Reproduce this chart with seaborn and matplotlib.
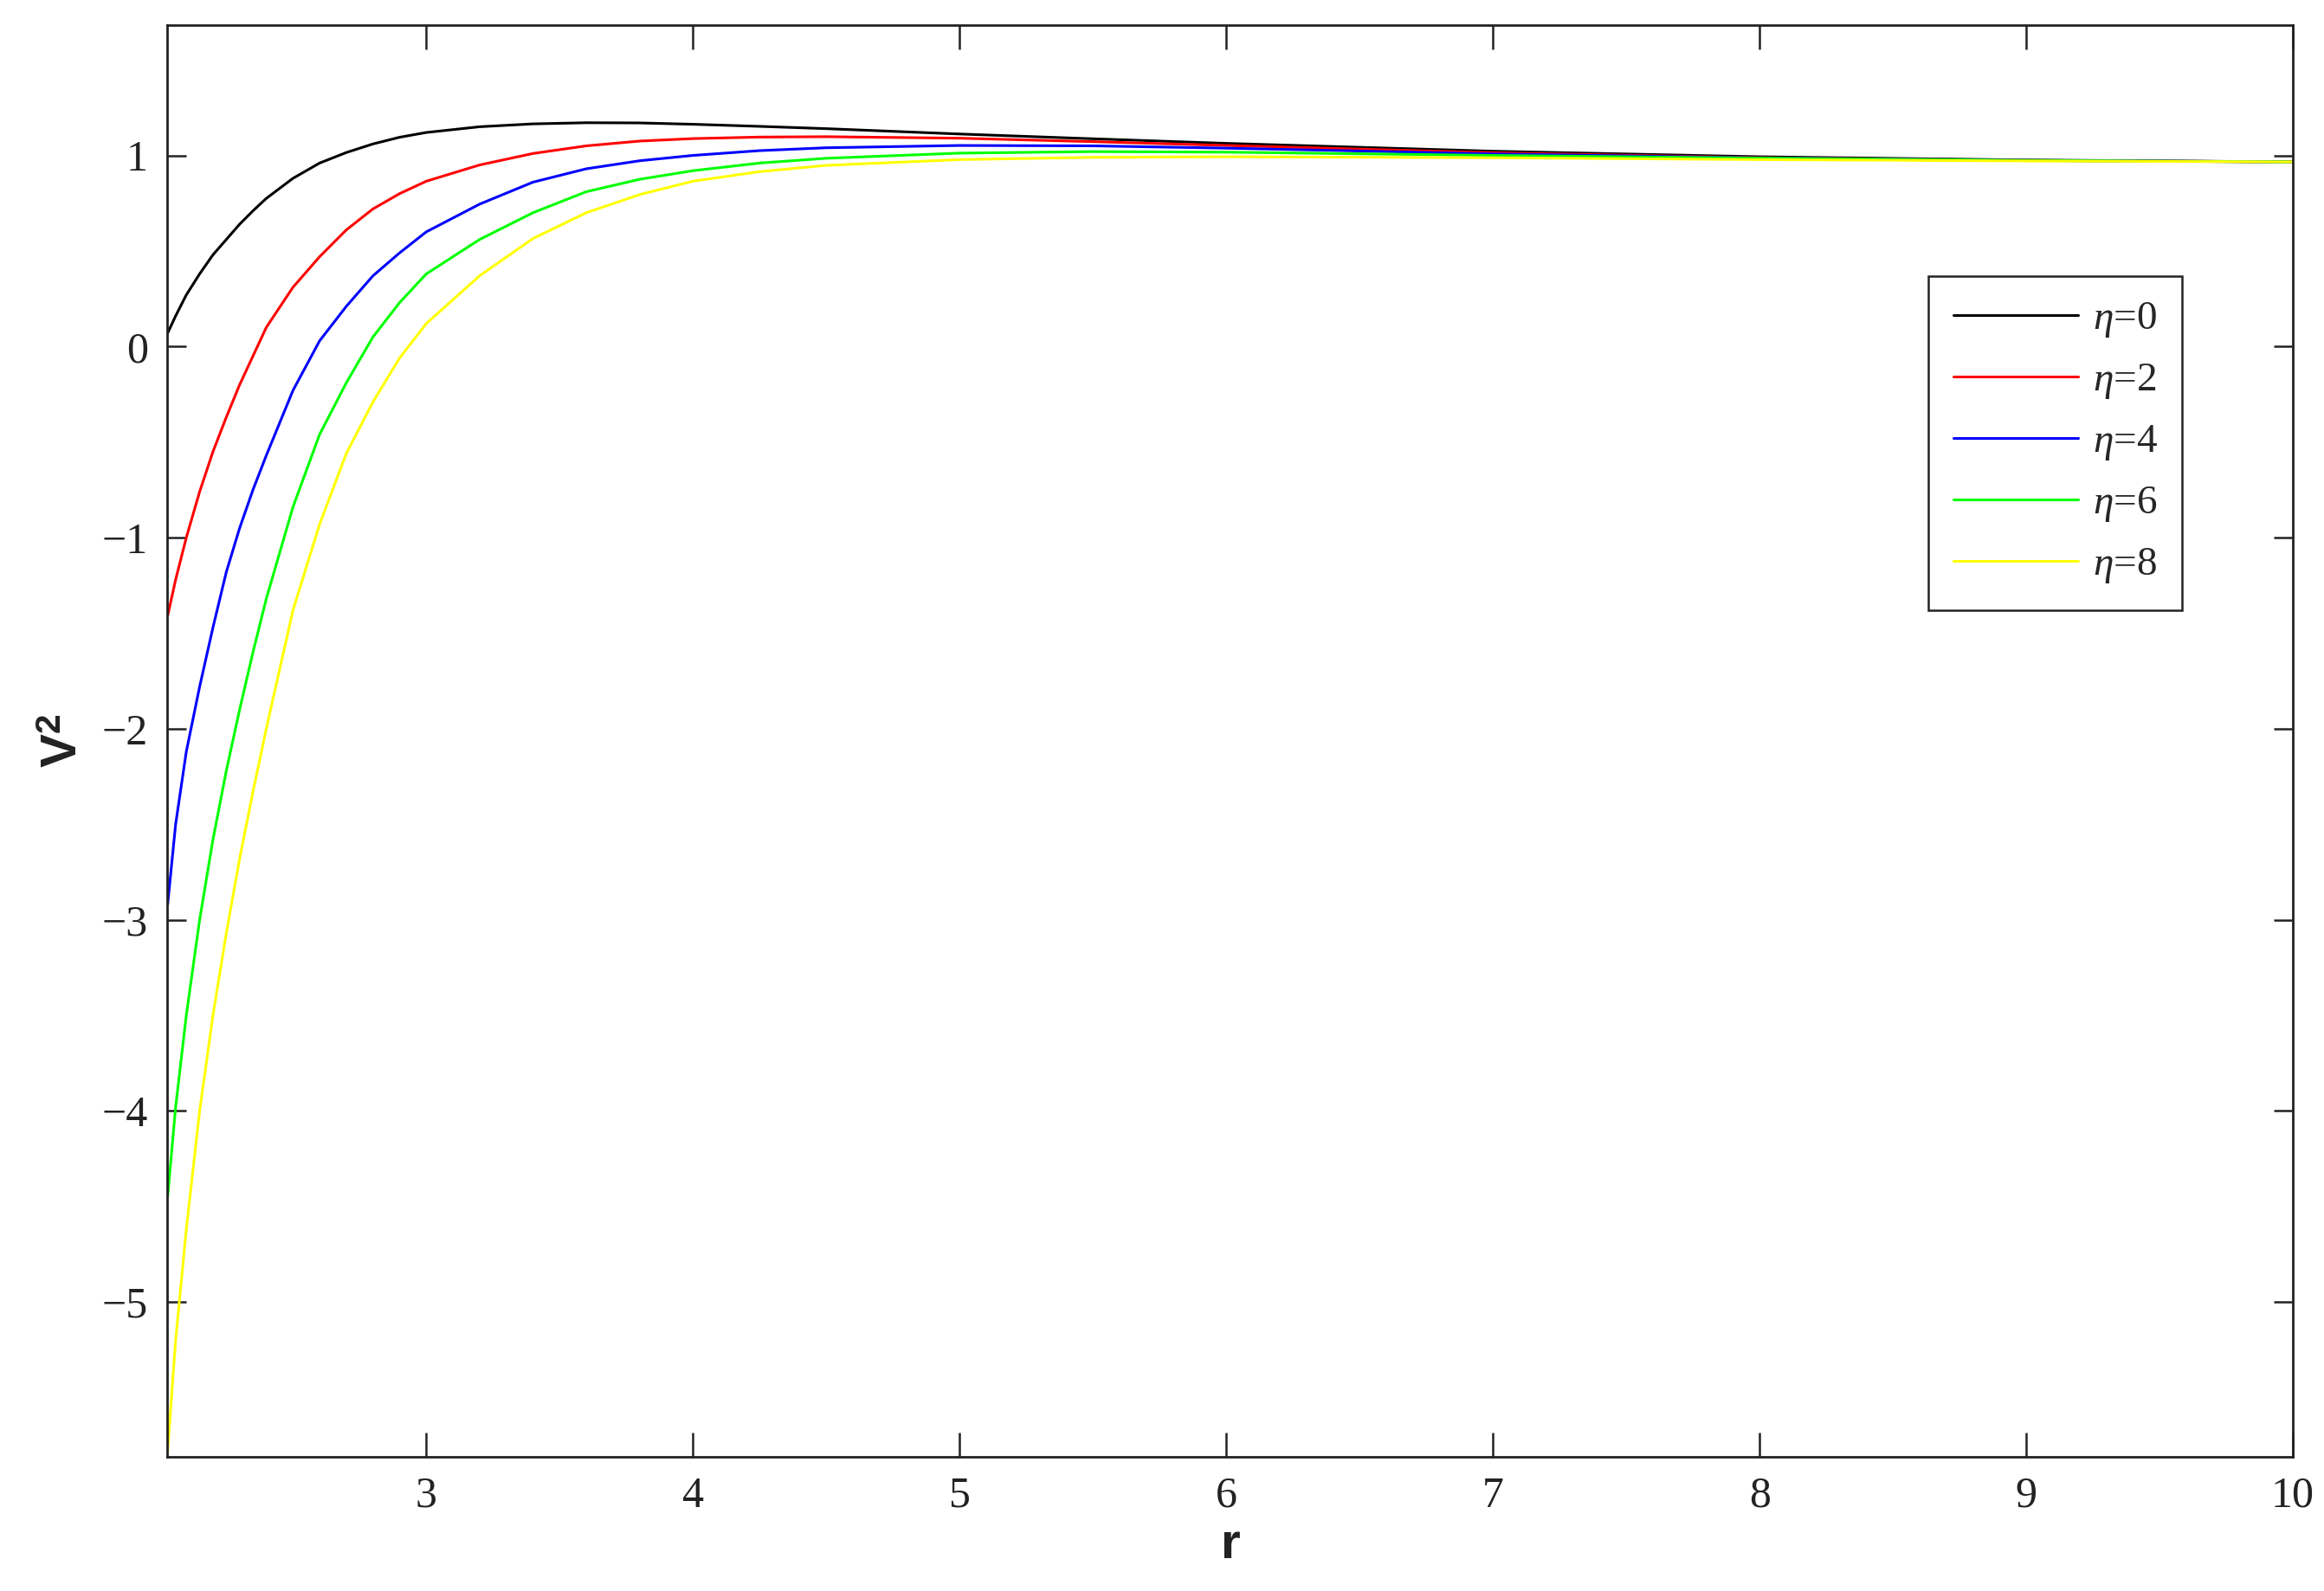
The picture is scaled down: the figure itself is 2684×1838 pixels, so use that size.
import numpy as np
import pandas as pd
import matplotlib
matplotlib.use("Agg")
import matplotlib.pyplot as plt
import seaborn as sns

# ---- data ----
r_vals = [2.03, 2.06, 2.1, 2.15, 2.2, 2.25, 2.3, 2.35, 2.4, 2.5, 2.6, 2.7, 2.8, 2.9,
          3.0, 3.2, 3.4, 3.6, 3.8, 4.0, 4.25, 4.5, 5.0, 5.5, 6.0, 7.0, 8.0, 9.0, 10.0]

v_eta0 = [0.07, 0.16, 0.27, 0.38, 0.48, 0.56, 0.64, 0.71, 0.775, 0.88, 0.96, 1.015, 1.06, 1.095,
          1.12, 1.15, 1.165, 1.171, 1.17, 1.163, 1.152, 1.14, 1.112, 1.087, 1.063, 1.022, 0.993, 0.976, 0.966]
v_eta2 = [-1.41, -1.22, -1.0, -0.76, -0.55, -0.37, -0.20, -0.05, 0.10, 0.31, 0.47, 0.61, 0.72, 0.80,
          0.865, 0.95, 1.01, 1.05, 1.075, 1.088, 1.096, 1.098, 1.09, 1.072, 1.052, 1.014, 0.988, 0.974, 0.966]
v_eta4 = [-2.92, -2.50, -2.12, -1.78, -1.47, -1.18, -0.95, -0.75, -0.57, -0.23, 0.03, 0.21, 0.37, 0.49,
          0.60, 0.745, 0.86, 0.93, 0.972, 1.0, 1.025, 1.04, 1.052, 1.05, 1.038, 1.008, 0.987, 0.974, 0.966]
v_eta6 = [-4.45, -3.98, -3.50, -3.00, -2.58, -2.22, -1.90, -1.60, -1.32, -0.84, -0.46, -0.19, 0.05, 0.23,
          0.38, 0.56, 0.70, 0.81, 0.875, 0.92, 0.96, 0.985, 1.012, 1.02, 1.017, 1.0, 0.986, 0.974, 0.966]
v_eta8 = [-5.78, -5.20, -4.62, -4.00, -3.50, -3.07, -2.68, -2.33, -2.00, -1.38, -0.93, -0.56, -0.29, -0.06,
          0.12, 0.37, 0.565, 0.70, 0.795, 0.865, 0.915, 0.948, 0.978, 0.99, 0.993, 0.988, 0.978, 0.971, 0.966]

labels = [r"$\eta$=0", r"$\eta$=2", r"$\eta$=4", r"$\eta$=6", r"$\eta$=8"]
colors = ["#000000", "#FF0000", "#0000FF", "#00FF00", "#FFFF00"]
x_ticks = [3, 4, 5, 6, 7, 8, 9, 10]
y_ticks = [-5, -4, -3, -2, -1, 0, 1]

series = [v_eta0, v_eta2, v_eta4, v_eta6, v_eta8]
df = pd.concat(
    [pd.DataFrame({"r": r_vals, "V2": s, "eta": lab}) for s, lab in zip(series, labels)],
    ignore_index=True,
)

sns.set_theme(style="ticks")
plt.rcParams["font.family"] = ["Liberation Serif", "DejaVu Serif"]
plt.rcParams["mathtext.fontset"] = "custom"
plt.rcParams["mathtext.rm"] = "Liberation Serif"
plt.rcParams["mathtext.it"] = "Liberation Serif:italic"
plt.rcParams["mathtext.bf"] = "Liberation Sans:bold"

fig = plt.figure(figsize=(13.42, 9.19), dpi=200)
ax = fig.add_axes([0.0719, 0.0843, 0.9147, 0.8997])

sns.lineplot(data=df, x="r", y="V2", hue="eta", hue_order=labels,
             palette=dict(zip(labels, colors)), linewidth=1.1, ax=ax, sort=False)

ax.set_xlim(2.028, 10)
ax.set_ylim(-5.81, 1.68)
ax.set_xticks(x_ticks)
ax.set_yticks(y_ticks)
ax.set_yticklabels(["\u2212" + str(abs(t)) if t < 0 else str(t) for t in y_ticks])
ax.tick_params(direction="in", width=0.9, top=True, right=True,
               labelsize=18, pad=8, colors="#222222")
ax.tick_params(axis="x", length=10)
ax.tick_params(axis="y", length=8)
for sp in ax.spines.values():
    sp.set_visible(True)
    sp.set_linewidth(1.0)
    sp.set_color("#222222")

ax.set_xlabel(r"$\mathbf{r}$", fontsize=21, labelpad=3, color="#222222")
ax.set_ylabel(r"$\mathbf{V}^{\mathbf{2}}$", fontsize=21, labelpad=6, color="#222222")

leg = ax.legend(loc="upper right", bbox_to_anchor=(0.948, 0.825), fontsize=17,
                frameon=True, fancybox=False, edgecolor="#222222", framealpha=1,
                handlelength=3.06, handletextpad=0.36, labelspacing=0.55,
                borderpad=0.6, borderaxespad=0, title=None)
leg.get_frame().set_linewidth(0.9)

fig.savefig("out.png", dpi=200)
